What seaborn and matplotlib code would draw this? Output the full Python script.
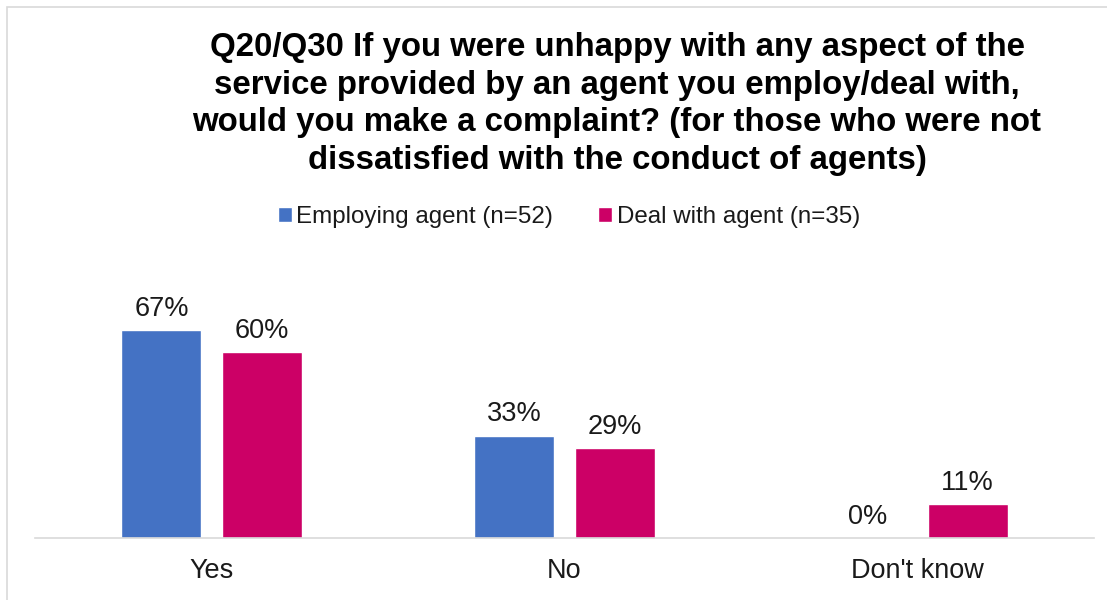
import matplotlib
matplotlib.use("Agg")
import matplotlib.pyplot as plt
from matplotlib.patches import Rectangle
import seaborn as sns
import pandas as pd

categories = ["Yes", "No", "Don't know"]
series_names = ["Employing agent (n=52)", "Deal with agent (n=35)"]
employing_values = [67, 33, 0]
deal_values = [60, 29, 11]
colors = ["#4472C4", "#CC0066"]

title = ("Q20/Q30 If you were unhappy with any aspect of the\n"
         "service provided by an agent you employ/deal with,\n"
         "would you make a complaint? (for those who were not\n"
         "dissatisfied with the conduct of agents)")

df = pd.DataFrame({
    "category": categories * 2,
    "series": [series_names[0]] * 3 + [series_names[1]] * 3,
    "value": employing_values + deal_values,
})

sns.set_theme(style="white")
plt.rcParams["font.family"] = ["Liberation Sans", "DejaVu Sans"]

text_color = "#1a1a1a"
W, H = 1107, 600
fig = plt.figure(figsize=(W / 100, H / 100), dpi=100)
ax_left, ax_right = 35 / W, 1094 / W
ax_bottom, ax_top = 1 - 538 / H, 1 - 290 / H
ax = fig.add_axes([ax_left, ax_bottom, ax_right - ax_left, ax_top - ax_bottom])

sns.barplot(data=df, x="category", y="value", hue="series", order=categories,
            hue_order=series_names, palette=colors, width=0.567, gap=0.2,
            saturation=1, errorbar=None, legend=False, ax=ax)

ax.set_xlim(-0.5, 2.5)
ax.set_ylim(0, 248 / 3.1)

for container in ax.containers:
    ax.bar_label(container, fmt="%.0f%%", padding=6, fontsize=19.5, color=text_color)

for s in ["top", "left", "right"]:
    ax.spines[s].set_visible(False)
ax.spines["bottom"].set_color("#d9d9d9")
ax.spines["bottom"].set_linewidth(1.2)
ax.set_yticks([])
ax.set_xlabel("")
ax.set_ylabel("")
ax.tick_params(axis="x", length=0, pad=14.5, labelsize=19.5, labelcolor=text_color)

fig.text(617 / W, 1 - 104 / H, title, ha="center", va="center", fontsize=23.8,
         fontweight="bold", color="black", linespacing=1.29)

handles = [Rectangle((0, 0), 1, 1, facecolor=c) for c in colors]
fig.legend(handles, series_names, loc="center", bbox_to_anchor=(569 / W, 1 - 217 / H),
           ncol=2, frameon=False, fontsize=17.4, handlelength=0.58, handleheight=0.58,
           handletextpad=0.2, columnspacing=1.86, labelcolor=text_color,
           borderpad=0, borderaxespad=0)

fig.patches.append(Rectangle((7 / W, -0.1), 2, 1 - 7 / H + 0.1, transform=fig.transFigure,
                             fill=False, edgecolor="#d9d9d9", linewidth=1.2))

fig.savefig("out.png", dpi=100)
